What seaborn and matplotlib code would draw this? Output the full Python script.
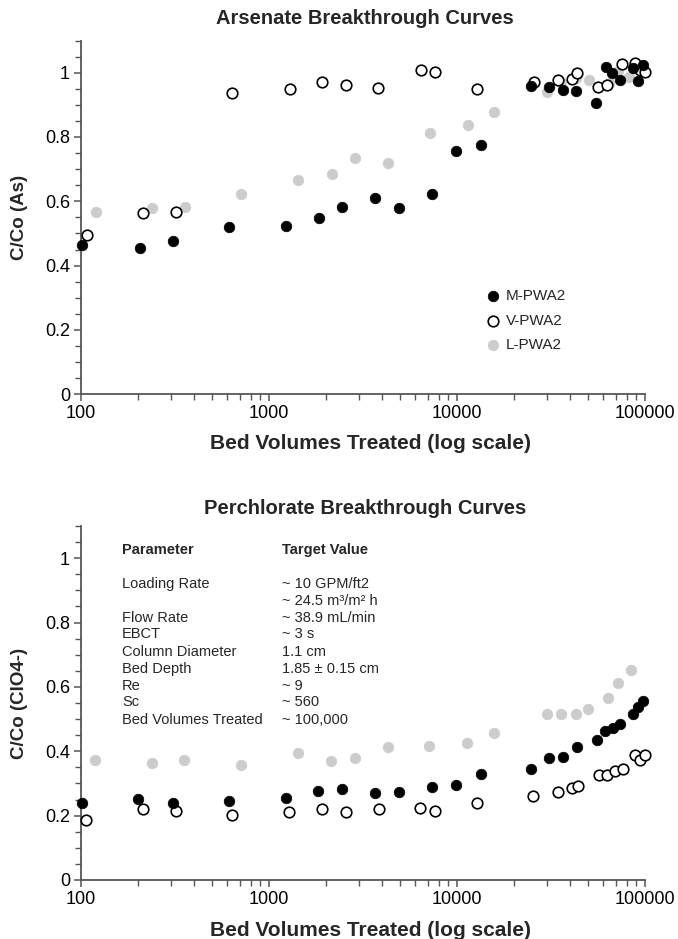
import numpy as np
import pandas as pd
import matplotlib
matplotlib.use("Agg")
import matplotlib.pyplot as plt
import seaborn as sns
from matplotlib.ticker import FixedLocator, MultipleLocator, FuncFormatter, LogLocator, NullFormatter

# ---------------- data ----------------
# Arsenate (top)
as_m_x = [101, 206, 307, 615, 1227, 1854, 2437, 3675, 4932, 7362, 9886, 13460, 24650, 30840, 36460, 42940, 55080, 61800, 67000, 73600, 85950, 92000, 97900]
as_m_y = [0.464, 0.454, 0.477, 0.521, 0.524, 0.547, 0.581, 0.609, 0.578, 0.624, 0.757, 0.775, 0.959, 0.955, 0.947, 0.942, 0.907, 1.019, 0.998, 0.977, 1.014, 0.975, 1.024]
as_v_x = [107, 214, 319, 638, 1288, 1924, 2560, 3813, 6413, 7680, 12760, 25700, 34600, 40700, 43300, 56200, 62500, 75700, 88400, 94000, 100000]
as_v_y = [0.496, 0.563, 0.566, 0.936, 0.948, 0.970, 0.962, 0.951, 1.008, 1.003, 0.948, 0.972, 0.977, 0.980, 0.998, 0.955, 0.962, 1.026, 1.029, 1.008, 1.003]
as_l_x = [120, 240, 357, 713, 1422, 2157, 2867, 4317, 7180, 11400, 15680, 30200, 35700, 43000, 50400, 64600, 72100, 82600]
as_l_y = [0.566, 0.578, 0.581, 0.623, 0.667, 0.684, 0.735, 0.720, 0.811, 0.837, 0.879, 0.939, 0.970, 0.983, 0.977, 0.967, 1.006, 0.988]

# Perchlorate (bottom)
pc_m_x = [101, 202, 307, 615, 1227, 1829, 2437, 3675, 4932, 7362, 9886, 13430, 24800, 30840, 36460, 43300, 55300, 61200, 67300, 73600, 85950, 92000, 97900]
pc_m_y = [0.238, 0.251, 0.240, 0.247, 0.254, 0.277, 0.282, 0.269, 0.273, 0.290, 0.295, 0.328, 0.344, 0.380, 0.383, 0.414, 0.435, 0.464, 0.473, 0.485, 0.515, 0.537, 0.557]
pc_v_x = [106, 214, 319, 638, 1277, 1915, 2560, 3850, 6350, 7680, 12740, 25450, 34600, 40700, 43900, 57000, 62500, 69200, 76000, 88400, 94000, 100000]
pc_v_y = [0.187, 0.220, 0.215, 0.202, 0.210, 0.220, 0.212, 0.220, 0.225, 0.215, 0.240, 0.261, 0.275, 0.285, 0.292, 0.326, 0.326, 0.339, 0.346, 0.389, 0.373, 0.389]
pc_l_x = [119, 238, 354, 713, 1422, 2128, 2867, 4285, 7130, 11350, 15680, 30200, 35700, 43000, 50000, 63800, 71600, 84000]
pc_l_y = [0.373, 0.363, 0.373, 0.357, 0.394, 0.370, 0.380, 0.414, 0.417, 0.427, 0.456, 0.515, 0.515, 0.515, 0.531, 0.567, 0.611, 0.651]

series_names = ["M-PWA2", "V-PWA2", "L-PWA2"]
x_ticks = [100, 1000, 10000, 100000]
y_ticks = [0, 0.2, 0.4, 0.6, 0.8, 1.0]

table_params = ["Loading Rate", "", "Flow Rate", "EBCT", "Column Diameter", "Bed Depth", "Re", "Sc", "Bed Volumes Treated"]
table_values = ["~ 10 GPM/ft2", "~ 24.5 m\u00b3/m\u00b2 h", "~ 38.9 mL/min", "~ 3 s", "1.1 cm", "1.85 \u00b1 0.15 cm", "~ 9", "~ 560", "~ 100,000"]

# ---------------- style ----------------
sns.set_style("ticks")
plt.rcParams["font.family"] = ["Liberation Sans", "DejaVu Sans"]

W, H = 678, 939
fig = plt.figure(figsize=(W / 100, H / 100), dpi=100)

def fx(px):
    return px / W

def fy(py):
    return 1 - py / H

ax1 = fig.add_axes([fx(81), fy(394.3), fx(645) - fx(81), fy(40.5) - fy(394.3)])
ax2 = fig.add_axes([fx(81), fy(880), fx(645) - fx(81), fy(526) - fy(880)])

GRAY = "#cccccc"
axis_col = "#555555"
S = 58

def draw(ax, mx, my, vx, vy, lx, ly):
    sns.scatterplot(x=lx, y=ly, ax=ax, color=GRAY, edgecolor=GRAY, linewidth=0.5, s=S,
                    label=series_names[2], zorder=2, clip_on=False)
    sns.scatterplot(x=vx, y=vy, ax=ax, color="white", edgecolor="black", linewidth=1.2, s=S,
                    label=series_names[1], zorder=3, clip_on=False)
    sns.scatterplot(x=mx, y=my, ax=ax, color="black", edgecolor="black", linewidth=0.5, s=S,
                    label=series_names[0], zorder=4, clip_on=False)
    ax.set_xscale("log")
    ax.set_xlim(100, 100000)
    ax.set_ylim(0, 1.1)
    ax.xaxis.set_major_locator(FixedLocator(x_ticks))
    ax.xaxis.set_major_formatter(FuncFormatter(lambda v, p: f"{int(round(v))}"))
    ax.xaxis.set_minor_locator(LogLocator(base=10, subs=np.arange(2, 10)))
    ax.xaxis.set_minor_formatter(NullFormatter())
    ax.yaxis.set_major_locator(FixedLocator(y_ticks))
    ax.yaxis.set_major_formatter(FuncFormatter(lambda v, p: f"{v:g}"))
    ax.yaxis.set_minor_locator(MultipleLocator(0.05))
    for sp in ["top", "right"]:
        ax.spines[sp].set_visible(False)
    for sp in ["left", "bottom"]:
        ax.spines[sp].set_color(axis_col)
        ax.spines[sp].set_linewidth(1.3)
    ax.tick_params(which="major", direction="out", length=5, width=1.1, color=axis_col,
                   labelsize=13, labelcolor="black", pad=3)
    ax.tick_params(which="minor", direction="out", length=4, width=1.0, color=axis_col)
    ax.set_xlabel("")
    ax.set_ylabel("")
    ax.set_facecolor("white")

draw(ax1, as_m_x, as_m_y, as_v_x, as_v_y, as_l_x, as_l_y)
draw(ax2, pc_m_x, pc_m_y, pc_v_x, pc_v_y, pc_l_x, pc_l_y)

# legend on top axes
h, l = ax1.get_legend_handles_labels()
order = [l.index(n) for n in series_names]
ax1.legend([h[i] for i in order], [l[i] for i in order], loc="center left",
           bbox_to_anchor=((485 - 81) / 564, (394.3 - 320.7) / 353.8),
           frameon=False, fontsize=11, handlelength=1.0, handletextpad=0.35,
           labelspacing=0.7, borderpad=0, borderaxespad=0, markerscale=1.0)
ax2.get_legend().remove()

# titles & labels
fig.text(fx(365), fy(18), "Arsenate Breakthrough Curves", ha="center", va="center", fontsize=14.5, fontweight="bold")
fig.text(fx(370), fy(444), "Bed Volumes Treated (log scale)", ha="center", va="center", fontsize=15, fontweight="bold")
fig.text(fx(20), fy(217), "C/Co (As)", ha="center", va="center", rotation=90, fontsize=13.5, fontweight="bold")

fig.text(fx(365), fy(509), "Perchlorate Breakthrough Curves", ha="center", va="center", fontsize=14.5, fontweight="bold")
fig.text(fx(370), fy(930), "Bed Volumes Treated (log scale)", ha="center", va="center", fontsize=15, fontweight="bold")
fig.text(fx(20), fy(703), "C/Co (ClO4-)", ha="center", va="center", rotation=90, fontsize=13.5, fontweight="bold")

# parameter table in bottom axes
row_y = [584, 601, 617.7, 634.3, 651.7, 669, 686, 702.3, 720]
fig.text(fx(122), fy(550), "Parameter", ha="left", va="center", fontsize=10.5, fontweight="bold")
fig.text(fx(282), fy(550), "Target Value", ha="left", va="center", fontsize=10.5, fontweight="bold")
for yy, p, v in zip(row_y, table_params, table_values):
    if p:
        fig.text(fx(122), fy(yy), p, ha="left", va="center", fontsize=10.5)
    fig.text(fx(282), fy(yy), v, ha="left", va="center", fontsize=10.5)

fig.savefig("out.png", dpi=100, facecolor="white")
